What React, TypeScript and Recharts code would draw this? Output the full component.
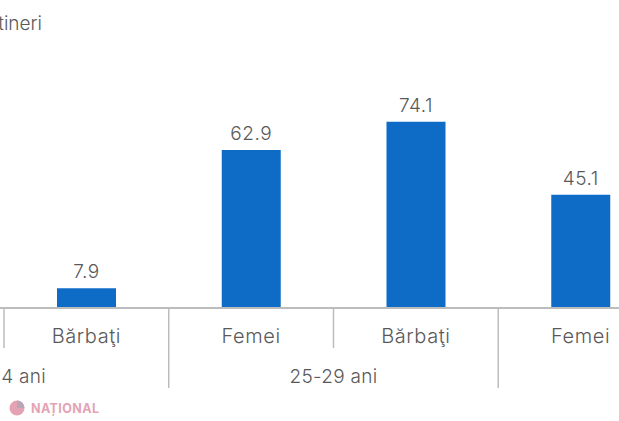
import { Bar, BarChart, LabelList, XAxis, YAxis } from 'recharts'

const categories = ['Bărbaţi', 'Femei', 'Bărbaţi', 'Femei']
const values = [7.9, 62.9, 74.1, 45.1]
// group label sits on the boundary left of a category; long separators mark group edges
const groupLabels = ['15-24 ani', '', '25-29 ani', '']
const groupEdges = [false, true, false, true]

const rows = categories.map((name, i) => ({ key: i, name, value: values[i] }))

const FONT = 'Inter, "Open Sans", sans-serif'
const TEXT = '#595959'
const GRID = '#bcbcbc'
const HALF_BAND = 82.4

function CategoryTick({ x, y, payload, index }: any) {
  const left = x - HALF_BAND
  const group = groupLabels[index]
  return (
    <g>
      <line x1={left} x2={left} y1={y} y2={y + (groupEdges[index] ? 80 : 40)} stroke={GRID} strokeWidth={1.5} />
      <text x={x} y={y + 35} textAnchor="middle" fontSize={20} letterSpacing={0.6} fontWeight={300} fontFamily={FONT} fill={TEXT}>
        {categories[index]}
      </text>
      {group ? (
        <text x={left} y={y + 75} textAnchor="middle" fontSize={19} letterSpacing={0.3} fontWeight={300} fontFamily={FONT} fill={TEXT}>
          {group}
        </text>
      ) : null}
    </g>
  )
}

export default function App() {
  return (
    <div style={{ position: 'absolute', left: 0, top: 0, width: 619, height: 421, overflow: 'hidden', background: '#fff' }}>
      <div style={{ position: 'absolute', right: 577, top: 13, fontFamily: FONT, fontSize: 19, fontWeight: 300, color: TEXT, whiteSpace: 'nowrap', lineHeight: '22px' }}>
        tineri
      </div>
      <BarChart
        width={663}
        height={421}
        data={rows}
        margin={{ top: 107, right: 0, bottom: 0, left: 0 }}
      >
        <XAxis
          dataKey="key"
          height={113}
          interval={0}
          tickLine={false}
          tickSize={0}
          tickMargin={0}
          padding={{ left: 4, right: 0 }}
          axisLine={{ stroke: GRID, strokeWidth: 2 }}
          tick={<CategoryTick />}
        />
        <YAxis hide domain={[0, 80]} />
        <Bar dataKey="value" fill="#0f6cc6" barSize={59} isAnimationActive={false}>
          <LabelList dataKey="value" position="top" offset={10} fontSize={19} letterSpacing={0.5} fontWeight={300} fontFamily={FONT} fill={TEXT} />
        </Bar>
      </BarChart>
      <svg width={110} height={24} style={{ position: 'absolute', left: 5, top: 396 }}>
        <circle cx={12} cy={12} r={7.5} fill="#e3a3b5" />
        <path d="M12 4.5 L12 12 L19.5 12 A7.5 7.5 0 0 0 12 4.5 Z" fill="#b9a6b4" />
        <text x={26} y={16.5} fontFamily={FONT} fontSize={12.5} fontWeight={700} fill="#e3a3b5" letterSpacing={0.4}>
          NAȚIONAL
        </text>
      </svg>
    </div>
  )
}
